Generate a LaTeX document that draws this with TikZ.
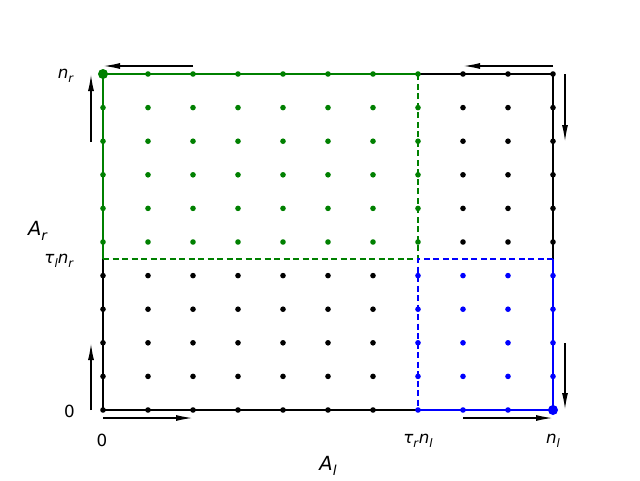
\documentclass[tikz,border=0pt]{standalone}
\usepackage{fontspec}
\setmainfont{DejaVu Sans}
\usetikzlibrary{arrows.meta}
\definecolor{mgreen}{RGB}{0,128,0}
\definecolor{mblue}{RGB}{0,0,255}
\newcommand\vr[2]{\textit{#1}\raisebox{-0.4ex}{\fontsize{11.7}{12}\selectfont\textit{#2}}}
\newcommand\vrb[2]{\textit{#1}\raisebox{-0.4ex}{\fontsize{13.7}{14}\selectfont\textit{#2}}}
\begin{document}
\begin{tikzpicture}[x=1pt,y=-1pt,
  lab/.style={inner sep=0pt,font=\fontsize{16.7}{20}\selectfont},
  biglab/.style={inner sep=0pt,font=\fontsize{19.5}{23}\selectfont},
  edgeline/.style={line width=1.6pt},
  dashline/.style={line width=1.6pt,dash pattern=on 6pt off 3.5pt},
  flow/.style={line width=1.6pt,-{Latex[length=17pt,width=6pt]}},
  dotr/.style={radius=2.8pt}]
\useasboundingbox (0,0) rectangle (640,480);
% corner coordinates
\coordinate (BL) at (103,410);
\coordinate (TL) at (103,74);
\coordinate (TR) at (553,74);
\coordinate (BR) at (553,410);
\coordinate (TM) at (418,74);
\coordinate (BM) at (418,410);
\coordinate (LM) at (103,259);
\coordinate (RM) at (553,259);
\coordinate (C) at (418,259);
% black edges
\draw[edgeline] (TM) -- (TR) -- (RM);
\draw[edgeline] (LM) -- (BL) -- (BM);
% green
\draw[edgeline,mgreen] (LM) -- (TL) -- (TM);
\draw[dashline,mgreen] (LM) -- (C) -- (TM);
% blue
\draw[edgeline,mblue] (BM) -- (BR) -- (RM);
\draw[dashline,mblue] (RM) -- (C) -- (BM);
% dots
\foreach \i in {0,...,7} \foreach \j in {5,...,10}
  \fill[mgreen] ({103+45*\i},{410-33.6*\j}) circle[dotr];
\foreach \i in {7,...,10} \foreach \j in {0,...,4}
  \fill[mblue] ({103+45*\i},{410-33.6*\j}) circle[dotr];
\foreach \i in {8,...,10} \foreach \j in {5,...,10}
  \fill ({103+45*\i},{410-33.6*\j}) circle[dotr];
\foreach \i in {0,...,6} \foreach \j in {0,...,4}
  \fill ({103+45*\i},{410-33.6*\j}) circle[dotr];
\fill[mgreen] (TL) circle[radius=5pt];
\fill[mblue] (BR) circle[radius=5pt];
% arrows
\coordinate (a1s) at (193,66); \coordinate (a1e) at (103,66);
\coordinate (a2s) at (553,66); \coordinate (a2e) at (463,66);
\coordinate (a3s) at (91,142); \coordinate (a3e) at (91,74);
\coordinate (a4s) at (91,410); \coordinate (a4e) at (91,343);
\coordinate (a5s) at (565,74); \coordinate (a5e) at (565,142);
\coordinate (a6s) at (565,343); \coordinate (a6e) at (565,410);
\coordinate (a7s) at (103,418); \coordinate (a7e) at (193,418);
\coordinate (a8s) at (463,418); \coordinate (a8e) at (553,418);
\draw[flow] (a1s) -- (a1e);
\draw[flow] (a2s) -- (a2e);
\draw[flow] (a3s) -- (a3e);
\draw[flow] (a4s) -- (a4e);
\draw[flow] (a5s) -- (a5e);
\draw[flow] (a6s) -- (a6e);
\draw[flow] (a7s) -- (a7e);
\draw[flow] (a8s) -- (a8e);
% labels
\node[lab,anchor=east] (lnr) at (74,76) {\vr{n}{r}};
\node[lab,anchor=east] (ltnr) at (74,261) {\vr{τ}{l}\vr{n}{r}};
\node[lab,anchor=east] (l0y) at (75,411) {0};
\node[biglab] (lAr) at (38,231) {\vrb{A}{r}};
\node[lab] (l0x) at (102,440) {0};
\node[lab] (ltnl) at (418,441) {\vr{τ}{r}\vr{n}{l}};
\node[lab] (lnl) at (553,441) {\vr{n}{l}};
\node[biglab] (lAl) at (328,466) {\vrb{A}{l}};
\end{tikzpicture}
\end{document}
